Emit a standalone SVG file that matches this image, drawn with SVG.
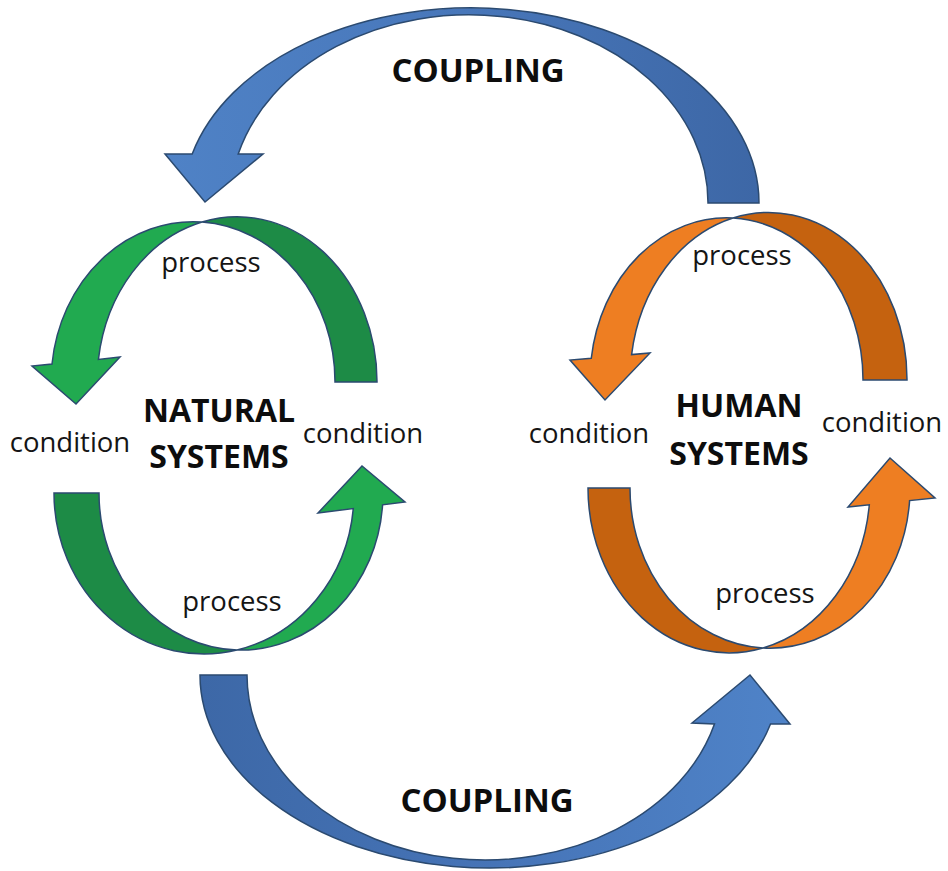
<svg xmlns="http://www.w3.org/2000/svg" width="948" height="871" viewBox="0 0 948 871">
  <style>
    .edge { stroke: #2B4A70; stroke-width: 1.5; stroke-linejoin: miter; }
    .g-front { fill: #21AA50; }
    .g-back { fill: #1D8B46; }
    .o-front { fill: #EE7E22; }
    .o-back { fill: #C5620F; }
    .lbl { font-family: "Open Sans", "Liberation Sans", sans-serif; font-size: 27.5px; fill: #151515; text-anchor: middle; }
    .title { font-family: "Open Sans", "Liberation Sans", sans-serif; font-weight: bold; font-size: 32px; fill: #0d0d0d; text-anchor: middle; }
    .coup { font-family: "Open Sans", "Liberation Sans", sans-serif; font-weight: bold; font-size: 33px; fill: #0d0d0d; text-anchor: middle; }
  </style>
  <defs>
    <linearGradient id="blueTop" x1="165" y1="0" x2="759" y2="0" gradientUnits="userSpaceOnUse">
      <stop offset="0" stop-color="#4F82C6"/>
      <stop offset="0.5" stop-color="#4877BA"/>
      <stop offset="1" stop-color="#3D67A6"/>
    </linearGradient>
    <linearGradient id="blueBottom" x1="200" y1="0" x2="790" y2="0" gradientUnits="userSpaceOnUse">
      <stop offset="0" stop-color="#3D68A7"/>
      <stop offset="0.5" stop-color="#4674B7"/>
      <stop offset="1" stop-color="#4F83C8"/>
    </linearGradient>
  </defs>
  <rect width="948" height="871" fill="#ffffff"/>

  <g id="connectors">
    <g id="coupling-top">
      <path class="edge" fill="url(#blueTop)" d="M 759,203 A 288 195 0 0 0 192.2,154 L 165,154 L 205,202 L 263,154 L 238.2,154 A 239 188 0 0 1 708,203 Z"/>
      <text class="coup" x="478" y="82">COUPLING</text>
    </g>
    <g id="coupling-bottom">
      <path class="edge" fill="url(#blueBottom)" d="M 200,675 A 290 193 0 0 0 770.5,724 L 790,724 L 750,675 L 692,723 L 714.5,724 A 238 185 0 0 1 247,675 Z"/>
      <text class="coup" x="487" y="812">COUPLING</text>
    </g>
  </g>

  <g id="natural-systems">
    <g id="natural-top-process">
      <path class="edge g-back" d="M 202,222 A 140 165 0 0 1 377,382 L 335,382 A 142 160 0 0 0 202,222 Z"/>
      <path class="edge g-front" d="M 202,222 A 142 160 0 0 0 52,364 L 32,366 L 76,404 L 120,357 L 98.4,359.5 A 140 165 0 0 1 202,222 Z"/>
      <text class="lbl" x="211" y="272">process</text>
    </g>
    <g id="natural-bottom-process">
      <path class="edge g-back" d="M 54,493 A 150 161 0 0 0 237,650 A 142 157 0 0 1 99,493 Z"/>
      <path class="edge g-front" d="M 237,650 A 142 157 0 0 0 382.6,504.8 L 405,502 L 362,466 L 318,513 L 353.3,508.6 A 150 161 0 0 1 237,650 Z"/>
      <text class="lbl" x="232" y="611">process</text>
    </g>
    <text class="lbl" x="70" y="452">condition</text>
    <text class="lbl" x="363" y="443">condition</text>
    <text class="title" x="219" y="422">NATURAL</text>
    <text class="title" x="219" y="468">SYSTEMS</text>
  </g>

  <g id="human-systems">
    <g id="human-top-process">
      <path class="edge o-back" d="M 733,218 A 138.5 167 0 0 1 907,380 L 863,380 A 136.5 162 0 0 0 733,218 Z"/>
      <path class="edge o-front" d="M 733,218 A 136.5 162 0 0 0 591.3,358.2 L 570,360 L 605,400 L 650,353 L 631.6,354.6 A 138.5 167 0 0 1 733,218 Z"/>
      <text class="lbl" x="742" y="265">process</text>
    </g>
    <g id="human-bottom-process">
      <path class="edge o-back" d="M 588,488 A 141 165 0 0 0 763,648 A 140 160 0 0 1 630,488 Z"/>
      <path class="edge o-front" d="M 763,648 A 140 160 0 0 0 909.6,500.6 L 935,498 L 890,458 L 848,507 L 869.3,504.8 A 141 165 0 0 1 763,648 Z"/>
      <text class="lbl" x="765" y="603">process</text>
    </g>
    <text class="lbl" x="589" y="443">condition</text>
    <text class="lbl" x="882" y="432">condition</text>
    <text class="title" x="739" y="417">HUMAN</text>
    <text class="title" x="739" y="465">SYSTEMS</text>
  </g>
</svg>
